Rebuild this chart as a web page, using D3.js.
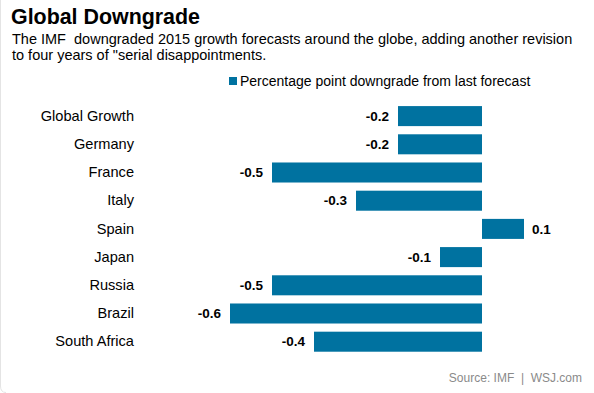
<!DOCTYPE html>
<html>
<head>
<meta charset="utf-8">
<script src="https://cdn.jsdelivr.net/npm/d3@7"></script>
<style>
  html, body { margin: 0; padding: 0; background: #fff; }
  svg { display: block; font-family: Arial, "Liberation Sans", sans-serif; }
</style>
</head>
<body>
<svg id="chart" width="594" height="393"></svg>
<script>
const categories = ["Global Growth", "Germany", "France", "Italy", "Spain", "Japan", "Russia", "Brazil", "South Africa"];
const values = [-0.2, -0.2, -0.5, -0.3, 0.1, -0.1, -0.5, -0.6, -0.4];
const valueLabels = ["-0.2", "-0.2", "-0.5", "-0.3", "0.1", "-0.1", "-0.5", "-0.6", "-0.4"];
const seriesName = "Percentage point downgrade from last forecast";
const title = "Global Downgrade";
const subtitleLines = [
  "The IMF  downgraded 2015 growth forecasts around the globe, adding another revision",
  "to four years of \"serial disappointments."
];
const sourceText = "Source: IMF  |  WSJ.com";

const barColor = "#0072a0";
const svg = d3.select("#chart");

// faint frame edge
svg.append("path")
  .attr("d", "M0.5,0 L0.5,386 Q0.5,392.5 6,392.5")
  .attr("fill", "none")
  .attr("stroke", "#e4e4e4");

// Title
svg.append("text")
  .attr("x", 11).attr("y", 24)
  .attr("font-size", 21.4).attr("font-weight", "bold").attr("fill", "#000")
  .text(title);

svg.append("g").selectAll("text").data(subtitleLines).join("text")
  .attr("x", 12).attr("y", (d, i) => 43.5 + i * 16.5)
  .attr("font-size", 14.5).attr("fill", "#000")
  .attr("xml:space", "preserve").style("white-space", "pre")
  .text(d => d);

// Legend
svg.append("rect").attr("x", 229).attr("y", 77).attr("width", 8).attr("height", 8).attr("fill", barColor);
svg.append("text").attr("x", 240).attr("y", 86)
  .attr("font-size", 14).attr("fill", "#000").text(seriesName);

// Scales
const x = d3.scaleLinear().domain([-0.6, 0.1]).range([230, 524]);
const y = d3.scaleBand().domain(categories).range([102, 102 + 9 * 28.2])
  .paddingInner(0.29).paddingOuter(0.145);

// Category axis
const yAxis = svg.append("g")
  .attr("transform", "translate(134,0)")
  .call(d3.axisLeft(y).tickSize(0).tickPadding(0));
yAxis.select(".domain").remove();
yAxis.selectAll("text")
  .attr("font-family", "Arial, 'Liberation Sans', sans-serif")
  .attr("font-size", 14.6).attr("fill", "#000");

const data = categories.map((c, i) => ({ c, v: values[i], label: valueLabels[i] }));

// Bars
svg.append("g").selectAll("rect").data(data).join("rect")
  .attr("x", d => x(Math.min(0, d.v)))
  .attr("y", d => y(d.c))
  .attr("width", d => Math.abs(x(d.v) - x(0)))
  .attr("height", y.bandwidth())
  .attr("fill", barColor);

// Value labels
svg.append("g").selectAll("text").data(data).join("text")
  .attr("x", d => d.v < 0 ? x(d.v) - 9 : x(d.v) + 8)
  .attr("y", d => y(d.c) + y.bandwidth() / 2)
  .attr("dy", "0.35em")
  .attr("text-anchor", d => d.v < 0 ? "end" : "start")
  .attr("font-size", 13.5).attr("font-weight", "bold").attr("fill", "#000")
  .text(d => d.label);

// Source
svg.append("text")
  .attr("x", 582).attr("y", 382)
  .attr("text-anchor", "end")
  .attr("font-size", 12).attr("fill", "#8a8a8a")
  .attr("xml:space", "preserve").style("white-space", "pre")
  .text(sourceText);
</script>
</body>
</html>
